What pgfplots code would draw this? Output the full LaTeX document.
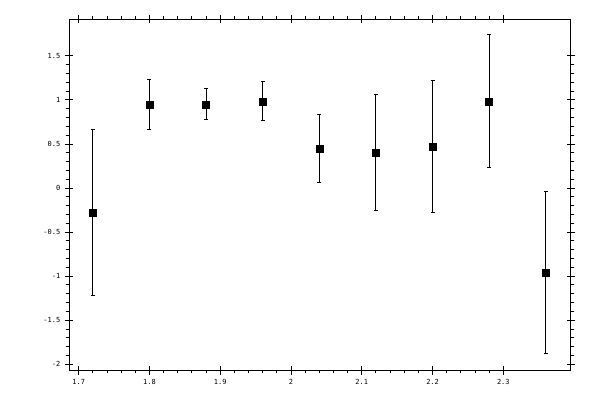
\documentclass[border=0pt]{standalone}
\usepackage{fontspec}
\setmonofont{DejaVu Sans Mono}
\usepackage{pgfplots}
\pgfplotsset{compat=1.18}
\begin{document}
\begin{tikzpicture}[x=1bp,y=1bp]
\useasboundingbox (-69.3bp,-30bp) rectangle (530.7bp,370bp);
\begin{axis}[
  at={(0,0)}, anchor=south west,
  scale only axis,
  width=501.4bp, height=350.7bp,
  xmin=1.6867, xmax=2.3952,
  ymin=-2.065, ymax=1.916,
  xtick={1.7,1.8,...,2.3},
  ytick={-2,-1.5,...,1.5},
  minor x tick num=4,
  minor y tick num=4,
  tick align=outside,
  major tick length=4.5bp,
  minor tick length=3.3bp,
  xtick pos=both, ytick pos=both,
  xticklabel pos=lower, yticklabel pos=left,
  axis line style={line width=1bp},
  every tick/.style={black, line width=1bp},
  /pgf/number format/assume math mode=true,
  ticklabel style={font=\ttfamily\fontsize{7}{8}\selectfont},
  xticklabel style={yshift=-1bp},
  yticklabel style={xshift=-1bp},
  extra x ticks={1.7,1.8,1.9,2.0,2.1,2.2,2.3},
  extra x tick labels={},
  extra y ticks={-2,-1.5,-1,-0.5,0,0.5,1,1.5},
  extra y tick labels={},
  extra tick style={tick align=inside, major tick length=4bp},
]
\addplot[black, only marks, mark=square*, mark size=3.5bp,
  error bars/.cd, y dir=both, y explicit,
  error bar style={line width=1bp, black},
  error mark options={rotate=90, mark size=2bp, line width=1bp, black}]
  table[x=x, y=y, y error=e] {
x y e
1.72 -0.275 0.942
1.80 0.951 0.284
1.88 0.951 0.176
1.96 0.985 0.221
2.04 0.451 0.385
2.12 0.406 0.658
2.20 0.474 0.749
2.28 0.985 0.753
2.36 -0.956 0.920
};
\end{axis}
\end{tikzpicture}
\end{document}
